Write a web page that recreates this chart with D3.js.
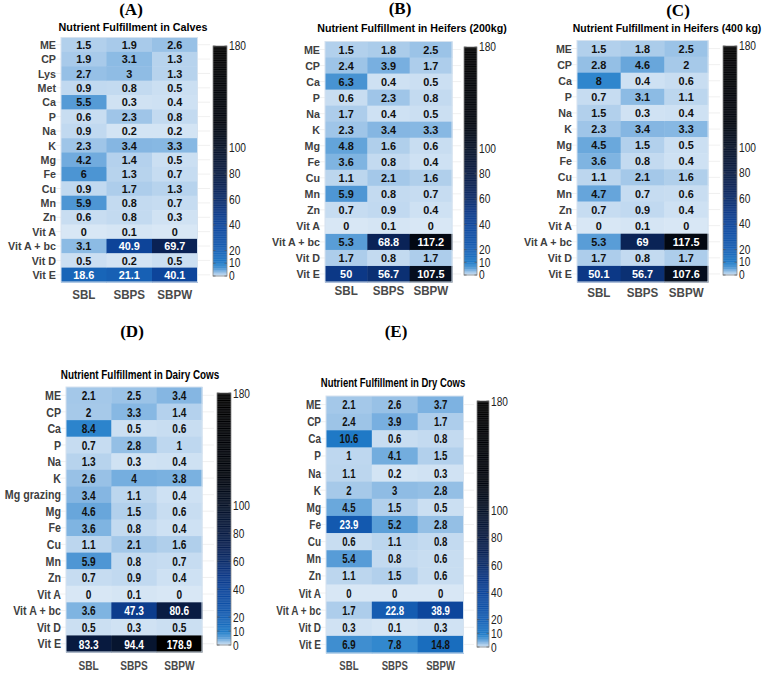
<!DOCTYPE html>
<html>
<head>
<meta charset="utf-8">
<script src="https://cdn.jsdelivr.net/npm/d3@7"></script>
<style>
  body { margin: 0; background: #fff; }
  svg { display: block; }
</style>
</head>
<body>
<div id="chart"></div>
<script>
// ---------------- datos ----------------
const columnas = ["SBL", "SBPS", "SBPW"];

const filasCalves = ["ME", "CP", "Lys", "Met", "Ca", "P", "Na", "K", "Mg", "Fe", "Cu", "Mn", "Zn", "Vit A", "Vit A + bc", "Vit D", "Vit E"];
const calvesSBL  = [1.5, 1.9, 2.7, 0.9, 5.5, 0.6, 0.9, 2.3, 4.2, 6, 0.9, 5.9, 0.6, 0, 3.1, 0.5, 18.6];
const calvesSBPS = [1.9, 3.1, 3, 0.8, 0.3, 2.3, 0.2, 3.4, 1.4, 1.3, 1.7, 0.8, 0.8, 0.1, 40.9, 0.2, 21.1];
const calvesSBPW = [2.6, 1.3, 1.3, 0.5, 0.4, 0.8, 0.2, 3.3, 0.5, 0.7, 1.3, 0.7, 0.3, 0, 69.7, 0.5, 40.1];

const filasHeifers = ["ME", "CP", "Ca", "P", "Na", "K", "Mg", "Fe", "Cu", "Mn", "Zn", "Vit A", "Vit A + bc", "Vit D", "Vit E"];
const h200SBL  = [1.5, 2.4, 6.3, 0.6, 1.7, 2.3, 4.8, 3.6, 1.1, 5.9, 0.7, 0, 5.3, 1.7, 50];
const h200SBPS = [1.8, 3.9, 0.4, 2.3, 0.4, 3.4, 1.6, 0.8, 2.1, 0.8, 0.9, 0.1, 68.8, 0.8, 56.7];
const h200SBPW = [2.5, 1.7, 0.5, 0.8, 0.5, 3.3, 0.6, 0.4, 1.6, 0.7, 0.4, 0, 117.2, 1.7, 107.5];

const h400SBL  = [1.5, 2.8, 8, 0.7, 1.5, 2.3, 4.5, 3.6, 1.1, 4.7, 0.7, 0, 5.3, 1.7, 50.1];
const h400SBPS = [1.8, 4.6, 0.4, 3.1, 0.3, 3.4, 1.5, 0.8, 2.1, 0.7, 0.9, 0.1, 69, 0.8, 56.7];
const h400SBPW = [2.5, 2, 0.6, 1.1, 0.4, 3.3, 0.5, 0.4, 1.6, 0.6, 0.4, 0, 117.5, 1.7, 107.6];

const filasDairy = ["ME", "CP", "Ca", "P", "Na", "K", "Mg grazing", "Mg", "Fe", "Cu", "Mn", "Zn", "Vit A", "Vit A + bc", "Vit D", "Vit E"];
const dairySBL  = [2.1, 2, 8.4, 0.7, 1.3, 2.6, 3.4, 4.6, 3.6, 1.1, 5.9, 0.7, 0, 3.6, 0.5, 83.3];
const dairySBPS = [2.5, 3.3, 0.5, 2.8, 0.3, 4, 1.1, 1.5, 0.8, 2.1, 0.8, 0.9, 0.1, 47.3, 0.3, 94.4];
const dairySBPW = [3.4, 1.4, 0.6, 1, 0.4, 3.8, 0.4, 0.6, 0.4, 1.6, 0.7, 0.4, 0, 80.6, 0.5, 178.9];

const filasDry = ["ME", "CP", "Ca", "P", "Na", "K", "Mg", "Fe", "Cu", "Mn", "Zn", "Vit A", "Vit A + bc", "Vit D", "Vit E"];
const drySBL  = [2.1, 2.4, 10.6, 1, 1.1, 2, 4.5, 23.9, 0.6, 5.4, 1.1, 0, 1.7, 0.3, 6.9];
const drySBPS = [2.6, 3.9, 0.6, 4.1, 0.2, 3, 1.5, 5.2, 1.1, 0.8, 1.5, 0, 22.8, 0.1, 7.8];
const drySBPW = [3.7, 1.7, 0.8, 1.5, 0.3, 2.8, 0.5, 2.8, 0.8, 0.6, 0.6, 0, 38.9, 0.3, 14.8];

const ticksBarra = [0, 10, 20, 40, 60, 80, 100, 180];

// ---------------- escala de color ----------------
const stops = [0, 0.5, 1, 1.5, 2, 3, 4, 5, 6, 8, 11, 15, 20, 25, 40, 50, 60, 70, 85, 100, 120, 180];
const colores = ["#d8e7f5", "#cbdff2", "#bed7ef", "#b2d0ec", "#a6c9e9", "#8fbce4", "#75aedf", "#5fa1d9",
                 "#4c95d3", "#2f86cd", "#1c77c5", "#196cbe", "#1862b6", "#1257ad", "#0d459b", "#0c3886",
                 "#0b2c6a", "#0a2254", "#08193c", "#061228", "#02060e", "#000000"];
const color = d3.scaleLinear().domain(stops).range(colores).clamp(true);

// ---------------- paneles ----------------
const paneles = [
  { letra: "(A)", titulo: "Nutrient Fulfillment in Calves", filas: filasCalves, series: [calvesSBL, calvesSBPS, calvesSBPW],
    letraX: 131, letraY: 15, tituloX: 133, tituloY: 31, x0: 61, x1: 197.5, y0: 37.5, y1: 282, colY: 299,
    bx: 213, bw: 14, by0: 46, by1: 276, fs: 11.5, sx: 0.93, cfs: 11.5, csx: 0.95, colfs: 12.5, colsx: 0.93, tfs: 11, tsx: 0.98, bfs: 12, bsx: 0.85 },
  { letra: "(B)", titulo: "Nutrient Fulfillment in Heifers (200kg)", filas: filasHeifers, series: [h200SBL, h200SBPS, h200SBPW],
    letraX: 400, letraY: 14, tituloX: 412, tituloY: 32, x0: 325, x1: 452, y0: 41.5, y1: 282, colY: 295,
    bx: 464, bw: 13, by0: 47, by1: 275, fs: 11.5, sx: 0.93, cfs: 11.5, csx: 0.95, colfs: 12.5, colsx: 0.93, tfs: 11, tsx: 0.97, bfs: 12, bsx: 0.85 },
  { letra: "(C)", titulo: "Nutrient Fulfillment in Heifers (400 kg)", filas: filasHeifers, series: [h400SBL, h400SBPS, h400SBPW],
    letraX: 678, letraY: 16, tituloX: 667, tituloY: 32, x0: 577, x1: 708, y0: 40.5, y1: 282, colY: 297,
    bx: 723, bw: 14, by0: 46, by1: 275, fs: 11.5, sx: 0.93, cfs: 11.5, csx: 0.95, colfs: 12.5, colsx: 0.93, tfs: 11, tsx: 0.95, bfs: 12, bsx: 0.85 },
  { letra: "(D)", titulo: "Nutrient Fulfillment in Dairy Cows", filas: filasDairy, series: [dairySBL, dairySBPS, dairySBPW],
    letraX: 132, letraY: 337, tituloX: 140, tituloY: 379, x0: 66, x1: 202, y0: 387, y1: 652, colY: 670,
    bx: 217, bw: 14, by0: 393, by1: 645, fs: 13, sx: 0.82, cfs: 13.5, csx: 0.75, colfs: 13.5, colsx: 0.75, tfs: 13, tsx: 0.76, bfs: 13, bsx: 0.78 },
  { letra: "(E)", titulo: "Nutrient Fulfillment in Dry Cows", filas: filasDry, series: [drySBL, drySBPS, drySBPW],
    letraX: 396, letraY: 337, tituloX: 393, tituloY: 387, x0: 326, x1: 463.5, y0: 396, y1: 653, colY: 670,
    bx: 477, bw: 12, by0: 401, by1: 647, fs: 12.5, sx: 0.8, cfs: 12.5, csx: 0.77, colfs: 13, colsx: 0.74, tfs: 13, tsx: 0.73, bfs: 13, bsx: 0.78 }
];

const svg = d3.select("#chart").append("svg").attr("width", 767).attr("height", 678);

// texto comprimido horizontalmente
function texto(g, x, y, str, opts) {
  return g.append("text")
    .attr("transform", `translate(${x},${y}) scale(${opts.sx || 1},1)`)
    .attr("text-anchor", opts.anchor || "middle")
    .attr("font-family", opts.family || "'Liberation Sans', Arial, sans-serif")
    .attr("font-weight", opts.weight || "bold")
    .attr("font-size", opts.size)
    .attr("fill", opts.fill || "#000")
    .text(str);
}

paneles.forEach(p => {
  const g = svg.append("g");

  const yScale = d3.scaleBand().domain(p.filas).range([p.y0, p.y1]);
  const xScale = d3.scaleBand().domain(columnas).range([p.x0, p.x1]);

  // lineas tenues de las filas
  g.selectAll("line.grid").data(p.filas).enter().append("line")
    .attr("x1", p.x0 - 6).attr("x2", p.bx - 3)
    .attr("y1", d => yScale(d) + yScale.bandwidth() / 2)
    .attr("y2", d => yScale(d) + yScale.bandwidth() / 2)
    .attr("stroke", "#ececec").attr("stroke-width", 0.8);

  const celdas = [];
  columnas.forEach((c, j) => p.filas.forEach((f, i) => celdas.push({ fila: f, col: c, valor: p.series[j][i] })));

  g.selectAll("rect.celda").data(celdas).enter().append("rect")
    .attr("x", d => xScale(d.col))
    .attr("y", d => yScale(d.fila))
    .attr("width", xScale.bandwidth() + 0.5)
    .attr("height", yScale.bandwidth() + 0.5)
    .attr("fill", d => color(d.valor));

  g.append("rect")
    .attr("x", p.x0).attr("y", p.y0)
    .attr("width", p.x1 - p.x0).attr("height", p.y1 - p.y0)
    .attr("fill", "none").attr("stroke", "#d5e2ef").attr("stroke-width", 1);

  celdas.forEach(d => {
    texto(g, xScale(d.col) + xScale.bandwidth() / 2, yScale(d.fila) + yScale.bandwidth() / 2 + p.cfs * 0.36,
      d.valor, { size: p.cfs, sx: p.csx, fill: d.valor > 15 ? "#fff" : "#111" });
  });

  // etiquetas de filas
  p.filas.forEach(f => {
    texto(g, p.x0 - 5, yScale(f) + yScale.bandwidth() / 2 + p.fs * 0.36, f,
      { size: p.fs, sx: p.sx, anchor: "end", fill: "#404040" });
  });

  // etiquetas de columnas
  columnas.forEach(c => {
    texto(g, xScale(c) + xScale.bandwidth() / 2, p.colY, c,
      { size: p.colfs, sx: p.colsx, fill: "#4a4a4a" });
  });

  // titulos
  texto(g, p.tituloX, p.tituloY, p.titulo, { size: p.tfs, sx: p.tsx, fill: "#000" });
  texto(g, p.letraX, p.letraY, p.letra, { size: 17, family: "'Liberation Serif', 'Times New Roman', serif", fill: "#000" });

  // barra de color
  const yBarra = d3.scaleLinear().domain([0, 180]).range([p.by1, p.by0]);
  const pasos = d3.range(0, 180, 0.5);
  g.selectAll("rect.barra").data(pasos).enter().append("rect")
    .attr("x", p.bx).attr("width", p.bw)
    .attr("y", d => yBarra(d + 0.5))
    .attr("height", d => yBarra(d) - yBarra(d + 0.5) + 0.3)
    .attr("fill", d => color(d + 0.25));
  g.append("rect")
    .attr("x", p.bx).attr("y", p.by0).attr("width", p.bw).attr("height", p.by1 - p.by0)
    .attr("fill", "none").attr("stroke", "#8a8a8a").attr("stroke-width", 0.8);

  ticksBarra.forEach(t => {
    g.append("line").attr("x1", p.bx).attr("x2", p.bx + 2.5)
      .attr("y1", yBarra(t)).attr("y2", yBarra(t)).attr("stroke", "#555").attr("stroke-width", 0.6);
    g.append("line").attr("x1", p.bx + p.bw - 2.5).attr("x2", p.bx + p.bw)
      .attr("y1", yBarra(t)).attr("y2", yBarra(t)).attr("stroke", "#555").attr("stroke-width", 0.6);
    texto(g, p.bx + p.bw + 2, yBarra(t) + p.bfs * 0.35, t,
      { size: p.bfs, sx: p.bsx, anchor: "start", weight: "normal", fill: "#222" });
  });
});
</script>
</body>
</html>
